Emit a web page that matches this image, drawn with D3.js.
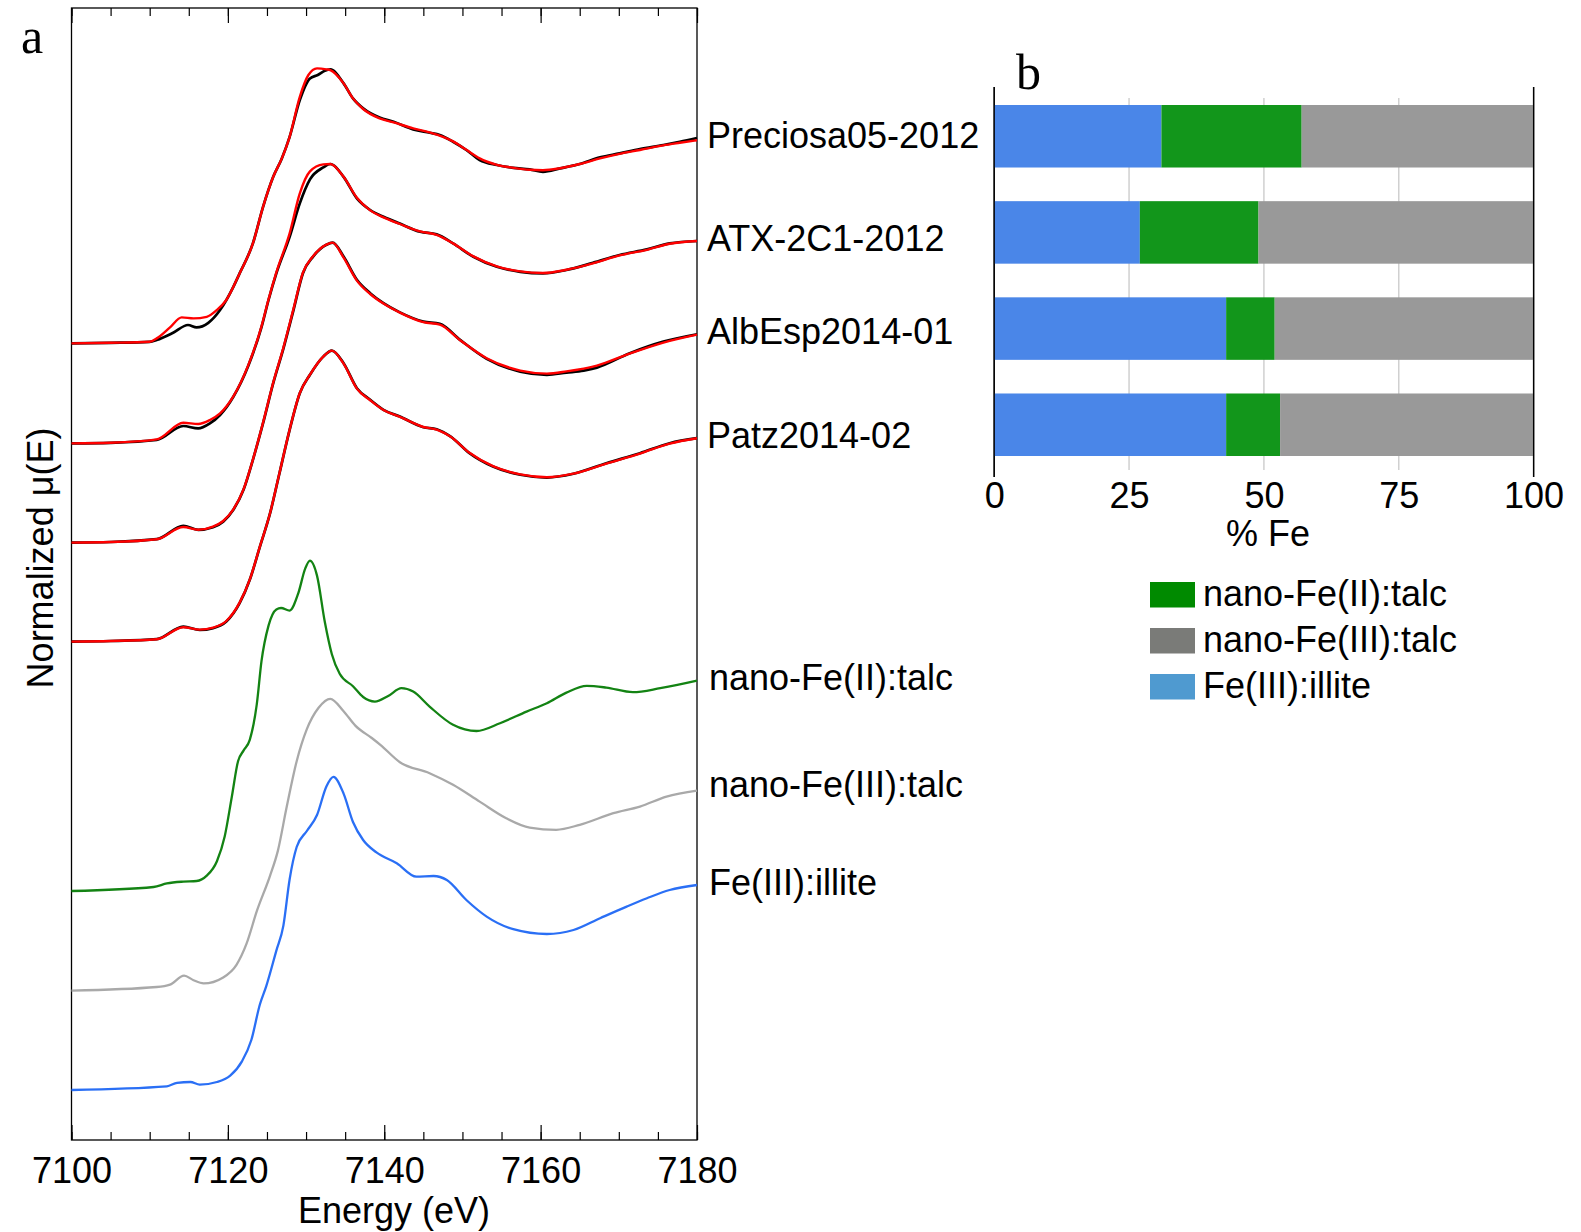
<!DOCTYPE html>
<html>
<head>
<meta charset="utf-8">
<script src="https://cdn.jsdelivr.net/npm/d3@7"></script>
<style>
  body { margin: 0; background: #fff; }
  text { font-family: "Liberation Sans", Arial, sans-serif; fill: #000; }
</style>
</head>
<body>
<svg id="chart" width="1581" height="1232"></svg>
<script>
// ---- panel a : XANES spectra (energy eV, normalized mu) ----
var energyMajor = [7100, 7120, 7140, 7160, 7180];

var preciosaData = [[7100,0],[7105,0.003],[7110,0.008],[7110.9,0.017],[7113,0.053],[7114.9,0.092],[7116,0.08],[7117.5,0.103],[7119,0.167],[7120.7,0.283],[7121.5,0.35],[7123.2,0.5],[7124.5,0.683],[7125.8,0.833],[7126.9,0.925],[7127.9,1.033],[7129.2,1.217],[7130.5,1.325],[7131.5,1.342],[7132.4,1.363],[7133.1,1.37],[7134.8,1.3],[7136,1.225],[7137.3,1.175],[7139.4,1.129],[7141.2,1.108],[7143.7,1.07],[7145.8,1.053],[7147.1,1.042],[7148.8,1.008],[7150.5,0.967],[7152.2,0.917],[7154.4,0.892],[7156.5,0.878],[7158.6,0.87],[7160.3,0.858],[7162.5,0.875],[7165,0.897],[7167.6,0.93],[7170.1,0.95],[7172.7,0.972],[7175.7,0.992],[7177.8,1.008],[7180,1.027]];
var preciosaFit = [[7100,0],[7105,0.003],[7110,0.008],[7110.9,0.025],[7112.6,0.08],[7114.1,0.13],[7115.6,0.125],[7117.3,0.133],[7118.6,0.167],[7119.8,0.217],[7121.5,0.35],[7123.2,0.5],[7124.5,0.683],[7125.8,0.833],[7126.9,0.925],[7127.9,1.033],[7129.2,1.233],[7130.3,1.342],[7131.4,1.375],[7132.6,1.37],[7133.1,1.366],[7134.8,1.3],[7136,1.225],[7137.3,1.172],[7139.4,1.125],[7141.2,1.105],[7143.7,1.075],[7145.8,1.055],[7148.8,1.01],[7150.5,0.968],[7152.2,0.925],[7154.4,0.893],[7156.5,0.878],[7158.6,0.868],[7160.3,0.866],[7162.5,0.876],[7165,0.897],[7167.6,0.925],[7170.1,0.948],[7172.7,0.967],[7175.7,0.99],[7177.8,1.003],[7180,1.016]];

var atxData = [[7100,0],[7105,0.003],[7110.9,0.017],[7114.3,0.087],[7116.2,0.075],[7117.7,0.1],[7119,0.142],[7120.7,0.233],[7122.6,0.387],[7124.3,0.581],[7125.2,0.717],[7126.2,0.85],[7127.9,1.033],[7129.2,1.2],[7130.5,1.32],[7132.2,1.38],[7133.1,1.397],[7134.8,1.333],[7136.5,1.225],[7138.2,1.167],[7139.9,1.133],[7142,1.099],[7144.6,1.058],[7146.7,1.045],[7148.8,1.0],[7151.4,0.933],[7154.4,0.883],[7157.4,0.858],[7160.3,0.85],[7163.3,0.867],[7166.7,0.903],[7170.1,0.942],[7173.6,0.97],[7176.5,1.0],[7180,1.012]];
var atxFit = [[7100,0],[7105,0.003],[7110.9,0.02],[7114.3,0.103],[7116.2,0.097],[7117.7,0.117],[7119,0.15],[7120.7,0.235],[7122.6,0.39],[7124.3,0.585],[7125.2,0.72],[7126.2,0.855],[7127.9,1.05],[7129.2,1.25],[7130.5,1.36],[7132.2,1.395],[7133.1,1.397],[7134.8,1.333],[7136.5,1.228],[7138.2,1.165],[7139.9,1.13],[7142,1.097],[7144.6,1.06],[7146.7,1.043],[7148.8,1.0],[7151.4,0.935],[7154.4,0.885],[7157.4,0.86],[7160.3,0.852],[7163.3,0.868],[7166.7,0.9],[7170.1,0.94],[7173.6,0.968],[7176.5,0.998],[7180,1.012]];

var albespData = [[7100,0],[7105,0.003],[7110.9,0.017],[7114.3,0.084],[7116.2,0.064],[7118.1,0.077],[7119.4,0.105],[7120.7,0.164],[7122,0.264],[7123.2,0.414],[7124.5,0.597],[7125.8,0.797],[7127.1,0.97],[7128.4,1.164],[7129.6,1.347],[7130.9,1.43],[7132.6,1.489],[7133.4,1.5],[7134.8,1.43],[7136.5,1.314],[7138.2,1.247],[7139.9,1.197],[7142,1.151],[7145,1.105],[7147.1,1.094],[7149.7,1.014],[7153.1,0.919],[7157.4,0.855],[7160.8,0.839],[7163.3,0.85],[7165.5,0.86],[7167.2,0.875],[7171.4,0.947],[7175.7,1.005],[7180,1.042]];
var albespFit = [[7100,0],[7105,0.003],[7110.9,0.017],[7114.3,0.078],[7116.2,0.064],[7118.1,0.08],[7119.4,0.108],[7120.7,0.166],[7122,0.266],[7123.2,0.415],[7124.5,0.6],[7125.8,0.8],[7127.1,0.975],[7128.4,1.17],[7129.6,1.35],[7130.9,1.432],[7132.6,1.49],[7133.4,1.5],[7134.8,1.425],[7136.5,1.31],[7138.2,1.243],[7139.9,1.195],[7142,1.15],[7145,1.102],[7147.1,1.09],[7149.7,1.012],[7153.1,0.922],[7157.4,0.86],[7160.8,0.845],[7163.3,0.856],[7167.2,0.885],[7171.4,0.945],[7175.7,1.0],[7180,1.04]];

var patzData = [[7100,0],[7105,0.003],[7110.9,0.012],[7114.3,0.075],[7116.4,0.058],[7118.1,0.067],[7119.8,0.1],[7121.5,0.192],[7122.8,0.309],[7124.1,0.475],[7125.4,0.642],[7126.6,0.842],[7127.9,1.059],[7129.2,1.242],[7130.5,1.334],[7132.2,1.425],[7133.3,1.455],[7134.8,1.392],[7136.5,1.267],[7138.2,1.209],[7139.9,1.159],[7142,1.125],[7145,1.072],[7146.7,1.062],[7148.5,1.025],[7150.9,0.942],[7153.9,0.875],[7157.4,0.834],[7160.8,0.82],[7164.2,0.839],[7168.4,0.892],[7172.7,0.942],[7176.5,0.992],[7180,1.017]];
var patzFit = [[7100,0],[7105,0.003],[7110.9,0.012],[7114.3,0.072],[7116.4,0.06],[7118.1,0.07],[7119.8,0.103],[7121.5,0.195],[7122.8,0.31],[7124.1,0.476],[7125.4,0.643],[7126.6,0.843],[7127.9,1.06],[7129.2,1.243],[7130.5,1.335],[7132.2,1.425],[7133.3,1.455],[7134.8,1.39],[7136.5,1.265],[7138.2,1.207],[7139.9,1.158],[7142,1.124],[7145,1.073],[7146.7,1.06],[7148.5,1.024],[7150.9,0.944],[7153.9,0.877],[7157.4,0.836],[7160.8,0.822],[7164.2,0.84],[7168.4,0.89],[7172.7,0.94],[7176.5,0.99],[7180,1.017]];

var feIITalc = [[7100,0],[7110.5,0.02],[7112.2,0.038],[7114.3,0.047],[7116,0.05],[7117.3,0.077],[7118.6,0.149],[7119.6,0.274],[7120.5,0.47],[7121.3,0.649],[7122,0.702],[7122.8,0.756],[7123.7,0.934],[7124.3,1.149],[7125.2,1.327],[7126.2,1.408],[7126.8,1.415],[7127.9,1.402],[7129,1.488],[7129.9,1.613],[7130.5,1.652],[7131.4,1.577],[7132.4,1.345],[7133.3,1.184],[7134.3,1.086],[7136,1.024],[7137.3,0.97],[7138.8,0.947],[7140.5,0.975],[7142.2,1.014],[7143.7,0.997],[7145.8,0.922],[7148.8,0.831],[7151.8,0.8],[7154.8,0.839],[7158.2,0.897],[7160.8,0.939],[7163.3,0.992],[7165.9,1.026],[7168.4,1.017],[7171.8,0.994],[7175.3,1.014],[7180,1.052]];
var feIIITalc = [[7100,0],[7110.9,0.018],[7112.6,0.03],[7114.4,0.075],[7115.6,0.052],[7116.9,0.036],[7119.4,0.066],[7121.1,0.129],[7122.4,0.236],[7123.7,0.397],[7125.4,0.575],[7126.4,0.7],[7127.5,0.914],[7128.8,1.147],[7130.1,1.307],[7131.6,1.414],[7133.1,1.459],[7134.8,1.397],[7136.3,1.325],[7138.4,1.263],[7139.5,1.229],[7142,1.142],[7145.8,1.087],[7148.8,1.029],[7152.2,0.945],[7155.6,0.862],[7158.6,0.815],[7162,0.804],[7165,0.829],[7169.3,0.887],[7172.7,0.92],[7176.1,0.97],[7180,1.0]];
var feIIIIllite = [[7100,0],[7112.2,0.018],[7113.5,0.036],[7115.2,0.04],[7116.4,0.027],[7118.6,0.04],[7120.3,0.072],[7121.8,0.143],[7123,0.25],[7124.1,0.429],[7124.9,0.518],[7126.2,0.697],[7127.1,0.822],[7127.9,1.054],[7128.8,1.215],[7130.1,1.295],[7131.4,1.375],[7132.6,1.518],[7133.5,1.566],[7134.8,1.482],[7136,1.34],[7137.3,1.25],[7139,1.188],[7141.6,1.134],[7144.1,1.067],[7146.3,1.07],[7148,1.05],[7150.5,0.95],[7153.1,0.867],[7156.5,0.804],[7160.8,0.78],[7164.2,0.8],[7167.6,0.859],[7171,0.917],[7173.6,0.959],[7176.5,1.0],[7180,1.025]];

var sampleNames = ["Preciosa05-2012", "ATX-2C1-2012", "AlbEsp2014-01", "Patz2014-02"];
var sampleData = [preciosaData, atxData, albespData, patzData];
var sampleFit = [preciosaFit, atxFit, albespFit, patzFit];
var sampleOffsets = [3.733, 3.233, 2.737, 2.242];

var refNames = ["nano-Fe(II):talc", "nano-Fe(III):talc", "Fe(III):illite"];
var refData = [feIITalc, feIIITalc, feIIIIllite];
var refOffsets = [0.995, 0.497, 0];
var refColors = ["#138313", "#a9a9a9", "#2a6ff5"];

// ---- panel b : linear combination fit, % Fe ----
var lcfIllite = [31, 27, 43, 43];
var lcfFeII = [26, 22, 9, 10];
var lcfFeIII = [43, 51, 48, 47];
var pctTicks = [0, 25, 50, 75, 100];
var barColors = {illite: "#4a86e8", feII: "#12961b", feIII: "#999999"};
var legendNames = ["nano-Fe(II):talc", "nano-Fe(III):talc", "Fe(III):illite"];
var legendColors = ["#008a00", "#7a7b78", "#4f9ad0"];

var svg = d3.select("#chart");
svg.append("rect").attr("width", 1581).attr("height", 1232).attr("fill", "#fff");

// ---------- panel a ----------
var x = d3.scaleLinear().domain([7100, 7180]).range([71.5, 697]);
var y = d3.scaleLinear().domain([-0.25, 5.41]).range([1140, 8]);
var plotTop = y.range()[1], plotBottom = y.range()[0];

var minorTicks = d3.range(7100, 7181, 5);

// bottom axis (ticks pointing inward)
svg.append("g")
  .attr("transform", "translate(0," + plotBottom + ")")
  .call(d3.axisBottom(x).tickValues(minorTicks).tickSize(-8).tickFormat(""))
  .call(g => g.select(".domain").remove());
svg.append("g")
  .attr("transform", "translate(0," + plotBottom + ")")
  .call(d3.axisBottom(x).tickValues(energyMajor).tickSizeInner(-15).tickSizeOuter(0).tickPadding(17).tickFormat(d3.format("d")))
  .call(g => g.select(".domain").remove())
  .call(g => g.selectAll("text").attr("font-size", 36).attr("font-family", "Liberation Sans, Arial, sans-serif"));
// top axis
svg.append("g")
  .attr("transform", "translate(0," + plotTop + ")")
  .call(d3.axisTop(x).tickValues(minorTicks).tickSize(-8).tickFormat(""))
  .call(g => g.select(".domain").remove());
svg.append("g")
  .attr("transform", "translate(0," + plotTop + ")")
  .call(d3.axisTop(x).tickValues(energyMajor).tickSize(-15).tickFormat(""))
  .call(g => g.select(".domain").remove());
svg.selectAll(".tick line").attr("stroke", "#000").attr("stroke-width", 1.2);

svg.append("rect")
  .attr("x", x(7100)).attr("y", plotTop)
  .attr("width", x(7180) - x(7100)).attr("height", plotBottom - plotTop)
  .attr("fill", "none").attr("stroke", "#000").attr("stroke-width", 1.3);

function lineFor(offset) {
  return d3.line()
    .x(d => x(d[0]))
    .y(d => y(d[1] + offset))
    .curve(d3.curveMonotoneX);
}

var curves = svg.append("g");
sampleData.forEach(function(data, i) {
  curves.append("path").attr("d", lineFor(sampleOffsets[i])(data))
    .attr("fill", "none").attr("stroke", "#000").attr("stroke-width", 2.7);
  curves.append("path").attr("d", lineFor(sampleOffsets[i])(sampleFit[i]))
    .attr("fill", "none").attr("stroke", "#ff0000").attr("stroke-width", 2.4);
});
refData.forEach(function(data, i) {
  curves.append("path").attr("d", lineFor(refOffsets[i])(data))
    .attr("fill", "none").attr("stroke", refColors[i]).attr("stroke-width", 2.3);
});

// curve labels at right ends
sampleNames.forEach(function(name, i) {
  var last = sampleData[i][sampleData[i].length - 1][1];
  svg.append("text").attr("x", 707).attr("y", y(last + sampleOffsets[i]) - 3)
    .attr("dy", "0.35em").attr("font-size", 36).text(name);
});
refNames.forEach(function(name, i) {
  var last = refData[i][refData[i].length - 1][1];
  svg.append("text").attr("x", 709).attr("y", y(last + refOffsets[i]) - (i == 1 ? 6 : 3))
    .attr("dy", "0.35em").attr("font-size", 36).text(name);
});

svg.append("text")
  .attr("transform", "translate(53," + ((plotTop + plotBottom) / 2 - 16) + ") rotate(-90)")
  .attr("text-anchor", "middle").attr("font-size", 36)
  .text("Normalized \u03bc(E)");
svg.append("text")
  .attr("x", 394).attr("y", 1223)
  .attr("text-anchor", "middle").attr("font-size", 36)
  .text("Energy (eV)");
svg.append("text").attr("x", 21).attr("y", 53)
  .style("font-family", "Liberation Serif, serif")
  .attr("font-size", 50).text("a");

// ---------- panel b ----------
var xb = d3.scaleLinear().domain([0, 100]).range([994.2, 1533.6]);
var yb = d3.scaleBand().domain(sampleNames).range([105, 456]).paddingInner(0.35).paddingOuter(0);

var rows = sampleNames.map(function(n, i) {
  return {name: n, illite: lcfIllite[i], feII: lcfFeII[i], feIII: lcfFeIII[i]};
});
var stack = d3.stack().keys(["illite", "feII", "feIII"])(rows);

// gridlines
svg.append("g").selectAll("line").data(pctTicks).join("line")
  .attr("x1", d => xb(d)).attr("x2", d => xb(d))
  .attr("y1", d => (d == 0 || d == 100) ? 87 : 98)
  .attr("y2", d => (d == 0 || d == 100) ? 477 : 470)
  .attr("stroke", d => (d == 0 || d == 100) ? "#000" : "#d0d0d0")
  .attr("stroke-width", d => (d == 0 || d == 100) ? 1.3 : 1.5);

svg.append("g").selectAll("g").data(stack).join("g")
  .attr("fill", d => barColors[d.key])
  .selectAll("rect").data(d => d).join("rect")
  .attr("x", d => xb(d[0]))
  .attr("width", d => xb(d[1]) - xb(d[0]))
  .attr("y", d => yb(d.data.name))
  .attr("height", yb.bandwidth());

// redraw the 0 / 100 lines over the bars
svg.append("g").selectAll("line").data([0, 100]).join("line")
  .attr("x1", d => xb(d)).attr("x2", d => xb(d))
  .attr("y1", 87).attr("y2", 477)
  .attr("stroke", "#000").attr("stroke-width", 1.3);

svg.append("g")
  .attr("transform", "translate(0,477)")
  .call(d3.axisBottom(xb).tickValues(pctTicks).tickSize(0).tickPadding(5).tickFormat(d3.format("d")))
  .call(g => g.select(".domain").remove())
  .call(g => g.selectAll("text").attr("font-size", 36).attr("font-family", "Liberation Sans, Arial, sans-serif"));

svg.append("text").attr("x", (xb(0) + xb(100)) / 2 + 4).attr("y", 546)
  .attr("text-anchor", "middle").attr("font-size", 36).text("% Fe");
svg.append("text").attr("x", 1016).attr("y", 89)
  .style("font-family", "Liberation Serif, serif")
  .attr("font-size", 50).text("b");

// legend
var legend = svg.append("g").attr("transform", "translate(1150,582)");
legendNames.forEach(function(name, i) {
  legend.append("rect").attr("x", 0).attr("y", i * 46)
    .attr("width", 45).attr("height", 25.5).attr("fill", legendColors[i]);
  legend.append("text").attr("x", 53).attr("y", i * 46 + 11)
    .attr("dy", "0.35em").attr("font-size", 36).text(name);
});
</script>
</body>
</html>
